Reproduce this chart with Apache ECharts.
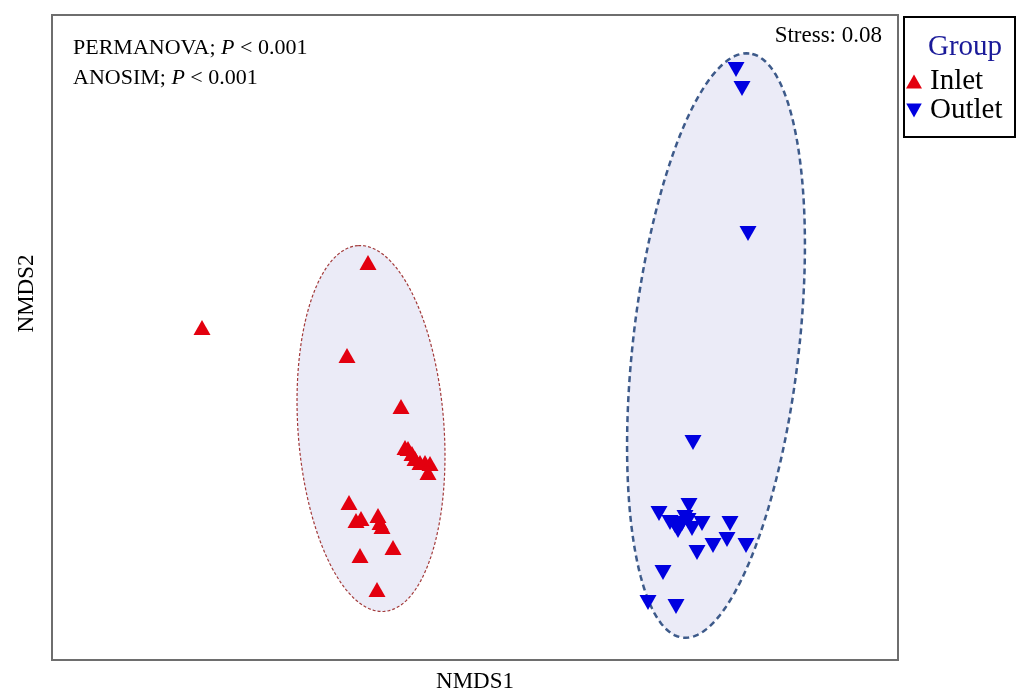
<!DOCTYPE html>
<html lang="en">
<head>
    <meta charset="UTF-8">
    <script src="https://cdn.jsdelivr.net/npm/echarts@6/dist/echarts.min.js"></script>
    <title>NMDS</title>
    <style type="text/css">
        html, body { margin: 0; padding: 0; background: #fff; }
        #chart { width: 1020px; height: 693px; }
    </style>
</head>
<body>
<div id="chart"></div>
<script type="text/javascript">
    // NMDS scores
    const inletPoints = [
        [-0.273, 0.010], [-0.107, 0.075], [-0.128, -0.018], [-0.074, -0.069],
        [-0.070, -0.110], [-0.067, -0.111], [-0.063, -0.116], [-0.060, -0.121],
        [-0.055, -0.125], [-0.050, -0.125], [-0.045, -0.126], [-0.047, -0.135],
        [-0.126, -0.165], [-0.119, -0.183], [-0.114, -0.181], [-0.097, -0.178],
        [-0.095, -0.185], [-0.093, -0.189], [-0.082, -0.210], [-0.115, -0.218],
        [-0.098, -0.252]
    ];
    const outletPoints = [
        [0.261, 0.268], [0.267, 0.249], [0.273, 0.104], [0.218, -0.105],
        [0.214, -0.168], [0.184, -0.176], [0.195, -0.185], [0.200, -0.188],
        [0.207, -0.186], [0.210, -0.180], [0.213, -0.183], [0.217, -0.191],
        [0.227, -0.186], [0.203, -0.193], [0.255, -0.186], [0.238, -0.208],
        [0.252, -0.202], [0.271, -0.208], [0.222, -0.215], [0.188, -0.235],
        [0.173, -0.265], [0.201, -0.269]
    ];
    // confidence ellipses: centre x, centre y, semi-major, semi-minor, angle (deg)
    const inletEllipse = [-0.104, -0.091, 0.1834, 0.073, 94.1];
    const outletEllipse = [0.241, -0.008, 0.294, 0.083, 83.5];

    const groupNames = ['Inlet', 'Outlet'];
    const statLines = ['PERMANOVA; {i|P} < 0.001', 'ANOSIM; {i|P} < 0.001'];
    const stressText = 'Stress: 0.08';

    const serif = '"Liberation Serif", "Times New Roman", serif';
    const downTri = 'path://M0,0L20,0L10,18Z';

    function ellipseItem(fill, stroke, width, dash) {
        return function (params, api) {
            const cx = api.value(0), cy = api.value(1);
            const a = api.value(2), b = api.value(3);
            const ang = api.value(4) * Math.PI / 180;
            const pts = [];
            for (let i = 0; i <= 180; i++) {
                const t = 2 * Math.PI * i / 180;
                const x = cx + a * Math.cos(t) * Math.cos(ang) - b * Math.sin(t) * Math.sin(ang);
                const y = cy + a * Math.cos(t) * Math.sin(ang) + b * Math.sin(t) * Math.cos(ang);
                pts.push(api.coord([x, y]));
            }
            return {
                type: 'polygon',
                shape: {points: pts},
                style: {fill: fill, stroke: stroke, lineWidth: width, lineDash: dash}
            };
        };
    }

    const richI = {i: {fontFamily: serif, fontSize: 22, fontStyle: 'italic', color: '#000'}};

    const myChart = echarts.init(document.getElementById('chart'));
    const option = {
        animation: false,
        title: [
            {text: statLines[0], left: 68, top: 32,
                textStyle: {fontFamily: serif, fontSize: 22, fontWeight: 'normal', color: '#000', rich: richI}},
            {text: statLines[1], left: 68, top: 62,
                textStyle: {fontFamily: serif, fontSize: 22, fontWeight: 'normal', color: '#000', rich: richI}},
            {text: stressText, right: 133, top: 19,
                textStyle: {fontFamily: serif, fontSize: 23, fontWeight: 'normal', color: '#000'}},
            {text: 'Group', left: 960, top: 28, textAlign: 'center',
                textStyle: {fontFamily: serif, fontSize: 29, fontWeight: 'normal', color: '#1a1a99'}}
        ],
        graphic: [{
            type: 'rect',
            shape: {x: 904, y: 17, width: 111, height: 120},
            style: {fill: 'none', stroke: '#000', lineWidth: 2}
        }],
        legend: {
            data: [
                {name: groupNames[0], icon: 'triangle'},
                {name: groupNames[1], icon: downTri}
            ],
            orient: 'vertical',
            left: 906, top: 67,
            padding: 0,
            itemWidth: 16, itemHeight: 14, itemGap: 0,
            textStyle: {fontFamily: serif, fontSize: 29, color: '#000', padding: [0, 0, 0, 3]}
        },
        grid: {
            left: 52, top: 15, width: 846, height: 645,
            outerBoundsMode: 'none',
            show: true, borderColor: '#6e6e6e', borderWidth: 2, backgroundColor: '#fff'
        },
        xAxis: {
            type: 'value', min: -0.423, max: 0.423,
            name: 'NMDS1', nameLocation: 'middle', nameGap: 10,
            nameTextStyle: {fontFamily: serif, fontSize: 23, color: '#000'},
            axisLine: {show: false}, axisTick: {show: false},
            axisLabel: {show: false}, splitLine: {show: false}
        },
        yAxis: {
            type: 'value', min: -0.3225, max: 0.3225,
            name: 'NMDS2', nameLocation: 'middle', nameGap: 14, nameRotate: 90,
            nameTextStyle: {fontFamily: serif, fontSize: 23, color: '#000', padding: [0, 0, 0, 88]},
            axisLine: {show: false}, axisTick: {show: false},
            axisLabel: {show: false}, splitLine: {show: false}
        },
        series: [
            {
                name: 'inlet ellipse', type: 'custom', z: 1, silent: true,
                renderItem: ellipseItem('#ebebf7', '#a33a3a', 1.2, [3, 2]),
                data: [inletEllipse]
            },
            {
                name: 'outlet ellipse', type: 'custom', z: 1, silent: true,
                renderItem: ellipseItem('#ebebf7', '#3d5a8a', 2.5, [6, 4]),
                data: [outletEllipse]
            },
            {
                name: groupNames[0], type: 'scatter', z: 3,
                symbol: 'triangle', symbolSize: [17, 15],
                itemStyle: {color: '#e3000f', opacity: 1},
                data: inletPoints
            },
            {
                name: groupNames[1], type: 'scatter', z: 3,
                symbol: downTri, symbolSize: [17, 15],
                itemStyle: {color: '#0000e0', opacity: 1},
                data: outletPoints
            }
        ]
    };
    myChart.setOption(option);
</script>
</body>
</html>
